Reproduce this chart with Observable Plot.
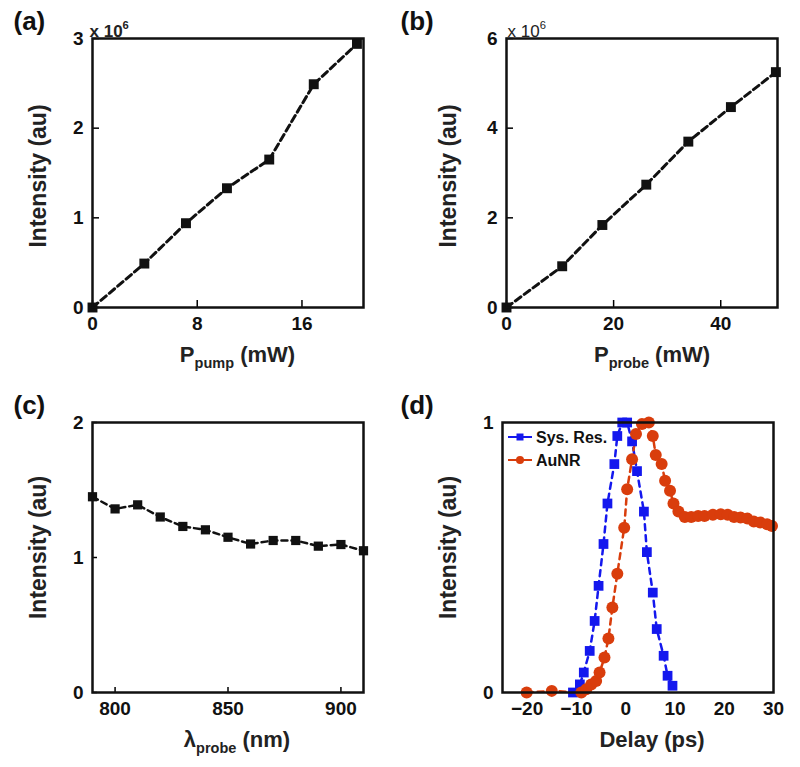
<!DOCTYPE html>
<html><head><meta charset="utf-8">
<script src="https://cdn.jsdelivr.net/npm/d3@7"></script>
<script src="https://cdn.jsdelivr.net/npm/@observablehq/plot@0.6"></script>
<style>
body{margin:0;background:#fff;}
#wrap{position:relative;width:800px;height:767px;overflow:hidden;background:#fff;}
.panel{position:absolute;}
</style></head><body><div id="wrap"></div>
<script>
// ---------- data ----------
// (a) pump power dependence
const pumpPower = [0, 3.96, 7.14, 10.27, 13.5, 16.9, 20.2];
const pumpIntensity = [0, 0.49, 0.94, 1.33, 1.65, 2.49, 2.94];
const pumpTicks = [0, 8, 16];
const pumpYTicks = [0, 1, 2, 3];
// (b) probe power dependence
const probePower = [0, 10.4, 17.9, 26.1, 33.95, 41.9, 50.3];
const probeIntensity = [0, 0.92, 1.84, 2.74, 3.70, 4.47, 5.25];
const probeTicks = [0, 20, 40];
const probeYTicks = [0, 2, 4, 6];
// (c) probe wavelength dependence
const wavelength = [790, 800, 810, 820, 830, 840, 850, 860, 870, 880, 890, 900, 910];
const wavelengthIntensity = [1.45, 1.36, 1.39, 1.30, 1.23, 1.205, 1.15, 1.10, 1.126, 1.126, 1.084, 1.096, 1.05];
const wavelengthTicks = [800, 850, 900];
const wavelengthYTicks = [0, 1, 2];
// (d) delay scans
const sysDelay = [-10.7, -9.3, -8.5, -7.3, -6.3, -5.5, -4.5, -3.7, -2.3, -1.7, -0.7, 0.3, 1.3, 2.3, 3.7, 4.3, 5.5, 6.3, 7.7, 8.5, 9.5];
const sysIntensity = [0, 0.03, 0.074, 0.154, 0.265, 0.395, 0.55, 0.70, 0.846, 0.95, 1.0, 1.0, 0.93, 0.82, 0.67, 0.52, 0.37, 0.235, 0.136, 0.062, 0.025];
const aunrDelay = [-20.1, -15, -9, -8, -7, -6, -5.3, -4.3, -3.5, -2.7, -1.7, -0.3, 0.3, 1.3, 2.1, 3.3, 4.7, 5.5, 6.1, 7.3, 8, 9, 9.7, 10.7, 12, 13.3, 14.7, 16, 17.7, 19.3, 20.7, 22, 23.3, 24.7, 26, 27.3, 28.7, 29.7];
const aunrIntensity = [0, 0.006, 0, 0.012, 0.03, 0.043, 0.074, 0.13, 0.20, 0.315, 0.44, 0.61, 0.753, 0.864, 0.957, 0.994, 1.0, 0.95, 0.88, 0.846, 0.784, 0.747, 0.70, 0.67, 0.65, 0.65, 0.654, 0.654, 0.658, 0.66, 0.658, 0.65, 0.648, 0.644, 0.633, 0.63, 0.623, 0.617];
const delayTicks = [-20, -10, 0, 10, 20, 30];
const delayYTicks = [0, 1];
const seriesNames = ["Sys. Res.", "AuNR"];

// ---------- helpers ----------
const FONT = "'Liberation Sans', Arial, Helvetica, sans-serif";
const BLUE = "#1418ee", RED = "#d93d0c";

// turn "P_{pump} (mW)" / "x 10^{6}" into tspans (font size passed explicitly)
function richify(svg, sizes) {
  svg.querySelectorAll("text").forEach(t => {
    const s = t.textContent;
    if (!/[_^]\{/.test(s)) return;
    const fs = sizes[s] || 16;
    while (t.firstChild) t.removeChild(t.firstChild);
    const re = /([_^])\{([^}]*)\}/g;
    let last = 0, m, shift = 0;
    const add = (txt, dy, size) => {
      const ts = document.createElementNS("http://www.w3.org/2000/svg", "tspan");
      if (dy) ts.setAttribute("dy", dy);
      if (size) ts.setAttribute("font-size", size);
      ts.textContent = txt;
      t.appendChild(ts);
    };
    while ((m = re.exec(s))) {
      if (m.index > last) { add(s.slice(last, m.index), shift ? -shift : 0, null); shift = 0; }
      const d = m[1] === "_" ? fs * 0.3 : -fs * 0.45;
      add(m[2], d, fs * 0.66);
      shift = d;
      last = re.lastIndex;
    }
    if (last < s.length) add(s.slice(last), shift ? -shift : 0, null);
  });
}

function legendMark(items) {
  return (index, scales, values, dims) => {
    const g = d3.create("svg:g");
    items.forEach((it, i) => {
      const y = dims.marginTop + 15 + i * 23;
      const x0 = dims.marginLeft + 6;
      g.append("line").attr("x1", x0).attr("x2", x0 + 24).attr("y1", y).attr("y2", y)
        .attr("stroke", it.color).attr("stroke-width", 2);
      if (it.symbol === "square") {
        g.append("rect").attr("x", x0 + 8.5).attr("y", y - 3.5).attr("width", 7).attr("height", 7)
          .attr("fill", it.color);
      } else {
        g.append("circle").attr("cx", x0 + 12).attr("cy", y).attr("r", 4).attr("fill", it.color);
      }
      g.append("text").attr("x", x0 + 28).attr("y", y).attr("dy", "0.35em")
        .attr("text-anchor", "start")
        .attr("font-size", 16).attr("font-weight", "bold").attr("font-family", FONT)
        .attr("fill", "#111").text(it.label);
    });
    return g.node();
  };
}

function panel(o) {
  const [mt, mr, mb, ml] = o.margin;
  const fw = o.width - ml - mr, fh = o.height - mt - mb;
  const marks = [];
  for (const s of o.series) {
    const data = s.x.map((x, i) => ({x, y: s.y[i]}));
    marks.push(Plot.line(data, {x: "x", y: "y", stroke: s.color, strokeWidth: s.lw, strokeDasharray: s.dash}));
  }
  for (const s of o.series) {
    const data = s.x.map((x, i) => ({x, y: s.y[i]}));
    marks.push(Plot.dot(data, {x: "x", y: "y", symbol: s.symbol, r: s.r, fill: s.color, stroke: "none"}));
  }
  if (o.tickLen) {
    marks.push(Plot.tickX(o.xTicks, {x: d => d, insetTop: fh - o.tickLen, stroke: "black", strokeWidth: 1.5}));
    marks.push(Plot.tickY(o.yTicks, {y: d => d, insetRight: fw - o.tickLen, stroke: "black", strokeWidth: 1.5}));
  }
  marks.push(Plot.frame({stroke: "#111", strokeWidth: 2.5}));
  marks.push(Plot.axisX(o.xTicks, {tickSize: 0, tickPadding: 9, fontSize: 19, fontWeight: "bold", label: null,
    tickFormat: d => d < 0 ? "\u2212" + (-d) : String(d)}));
  marks.push(Plot.axisY(o.yTicks, {tickSize: 0, tickPadding: 9, fontSize: 19, fontWeight: "bold", label: null,
    tickFormat: d => String(d)}));
  marks.push(Plot.text([o.yLabel], {text: d => d, frameAnchor: "left", textAnchor: "middle", lineAnchor: "middle",
    rotate: -90, dx: o.yLabelDx, dy: o.yLabelDy, fontSize: 23, fontWeight: "bold", fill: "#222"}));
  marks.push(Plot.text([o.xLabel], {text: d => d, frameAnchor: "bottom", textAnchor: "middle", lineAnchor: "middle",
    dx: o.xLabelDx, dy: 47, fontSize: 22, fontWeight: "bold", fill: "#222"}));
  marks.push(Plot.text([o.tag], {text: d => d, frameAnchor: "top-left", textAnchor: "start", lineAnchor: "middle",
    dx: o.tagDx, dy: -17, fontSize: 26, fontWeight: "bold", fill: "#111"}));
  if (o.note) {
    marks.push(Plot.text([o.note], {text: d => d, frameAnchor: "top-left", textAnchor: "start", lineAnchor: "bottom",
      dx: o.noteDx, dy: -2, fontSize: 17, fontWeight: o.noteWeight, fill: "#222"}));
  }
  if (o.legend) marks.push(legendMark(o.legend));
  const svg = Plot.plot({
    width: o.width, height: o.height,
    marginTop: mt, marginRight: mr, marginBottom: mb, marginLeft: ml,
    x: {domain: o.xDomain},
    y: {domain: o.yDomain},
    style: {fontFamily: FONT, color: "#111", background: "transparent", overflow: "visible"},
    marks
  });
  const sizes = {};
  sizes[o.xLabel] = 22;
  if (o.note) sizes[o.note] = 17;
  richify(svg, sizes);
  svg.classList.add("panel");
  svg.style.left = o.left + "px";
  svg.style.top = o.top + "px";
  document.getElementById("wrap").appendChild(svg);
}

// (a)
panel({
  left: 0, top: 0, width: 400, height: 383, margin: [38, 37, 76, 92],
  xDomain: [0, 20.7], yDomain: [0, 3], xTicks: pumpTicks, yTicks: pumpYTicks, tickLen: 7,
  series: [{x: pumpPower, y: pumpIntensity, color: "#111", lw: 3, dash: "7,4", symbol: "square", r: 5.6}],
  tag: "(a)", tagDx: -79, yLabel: "Intensity (au)", yLabelDx: -54, yLabelDy: 3,
  xLabel: "P_{pump} (mW)", xLabelDx: 9.5, note: "x 10^{6}", noteDx: -3, noteWeight: "bold"
});
// (b)
panel({
  left: 400, top: 0, width: 400, height: 383, margin: [38, 23, 76, 106],
  xDomain: [0, 50.6], yDomain: [0, 6], xTicks: probeTicks, yTicks: probeYTicks, tickLen: 7,
  series: [{x: probePower, y: probeIntensity, color: "#111", lw: 3, dash: "7,4", symbol: "square", r: 5.6}],
  tag: "(b)", tagDx: -106, yLabel: "Intensity (au)", yLabelDx: -58, yLabelDy: 3,
  xLabel: "P_{probe} (mW)", xLabelDx: 10, note: "x 10^{6}", noteDx: 1, noteWeight: "normal"
});
// (c)
panel({
  left: 0, top: 383, width: 400, height: 384, margin: [39, 37, 75, 92],
  xDomain: [790, 910], yDomain: [0, 2], xTicks: wavelengthTicks, yTicks: wavelengthYTicks, tickLen: 5,
  series: [{x: wavelength, y: wavelengthIntensity, color: "#111", lw: 2.5, dash: "6,4", symbol: "square", r: 5.2}],
  tag: "(c)", tagDx: -79, yLabel: "Intensity (au)", yLabelDx: -54, yLabelDy: -10,
  xLabel: "\u03bb_{probe} (nm)", xLabelDx: 9
});
// (d)
panel({
  left: 400, top: 383, width: 400, height: 384, margin: [39, 27, 75, 102],
  xDomain: [-25, 30], yDomain: [0, 1], xTicks: delayTicks, yTicks: delayYTicks, tickLen: 0,
  series: [
    {x: sysDelay, y: sysIntensity, color: BLUE, lw: 2.5, dash: "6,5", symbol: "square", r: 5.5},
    {x: aunrDelay, y: aunrIntensity, color: RED, lw: 2.5, dash: "6,5", symbol: "circle", r: 6}
  ],
  tag: "(d)", tagDx: -102, yLabel: "Intensity (au)", yLabelDx: -54, yLabelDy: -10,
  xLabel: "Delay (ps)", xLabelDx: 14,
  legend: [
    {label: seriesNames[0], color: BLUE, symbol: "square"},
    {label: seriesNames[1], color: RED, symbol: "circle"}
  ]
});
</script></body></html>
